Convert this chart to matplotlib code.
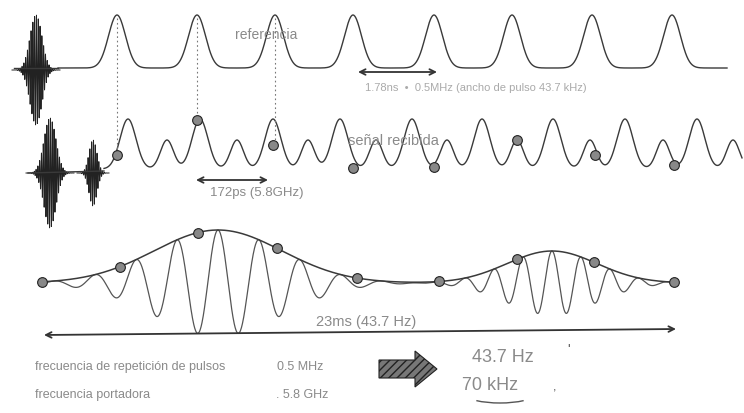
import numpy as np
import matplotlib
matplotlib.use("Agg")
import matplotlib.pyplot as plt
from matplotlib.patches import FancyArrow, Arc

# --- values (pixel units of the 744x413 drawing) ---
ref_peaks_x = [117, 197, 275, 353, 434, 512, 592, 672]
ref_baseline, ref_height = 68, 53

recv_big_x = [128, 200, 273, 340, 412, 482, 553, 625, 697]
recv_small_x = [167, 237, 308, 376, 447, 517, 590, 663, 733]
recv_baseline, recv_big_h, recv_small_h = 169, 50, 29
recv_samples_x = [117, 197, 273, 353, 434, 517, 595, 674]
recv_samples_y = [155, 120, 145, 168, 167, 140, 155, 165]

env_samples_x = [42, 120, 198, 277, 357, 439, 517, 594, 674]
bump_centers = [218, 552]
bump_amps = [53, 32]
bump_widths = [64, 45]
bump_periods = [41, 29]
env_baseline = 283

burst_x = [36, 50, 93]
burst_y = [70, 173, 173]
burst_amp = [55, 55, 33]
burst_w = [6, 6, 4]

labels = {
    "ref": "referencia",
    "ref_span": "1.78ns  \u2022  0.5MHz (ancho de pulso 43.7 kHz)",
    "recv": "se\u00f1al recibida",
    "recv_span": "172ps (5.8GHz)",
    "env_span": "23ms (43.7 Hz)",
    "prf": "frecuencia de repetici\u00f3n de pulsos",
    "prf_val": "0.5 MHz",
    "carrier": "frecuencia portadora",
    "carrier_val": ". 5.8 GHz",
    "out1": "43.7 Hz",
    "out2": "70 kHz",
}

LINE = "#3a3a3a"
TXT = "#8a8a8a"
plt.rcParams["font.family"] = ["Liberation Sans", "DejaVu Sans"]


def gauss(x, c, w):
    return np.exp(-(x - c) ** 2 / (2 * w ** 2))


fig = plt.figure(figsize=(7.44, 4.13), dpi=100)
ax = fig.add_axes([0, 0, 1, 1])
ax.set_xlim(0, 744)
ax.set_ylim(413, 0)
ax.axis("off")

# bursts on the left
for bx, by, ba, bw in zip(burst_x, burst_y, burst_amp, burst_w):
    xb = np.linspace(bx - 4 * bw, bx + 4 * bw, 900)
    yb = by - ba * gauss(xb, bx, bw) * np.sin(2 * np.pi * (xb - bx) / 1.8)
    ax.plot(xb, yb, color="#222", lw=0.7)

# reference pulse train
x1 = np.linspace(58, 727, 1500)
y1 = np.full_like(x1, ref_baseline, dtype=float)
for px in ref_peaks_x:
    y1 -= ref_height * gauss(x1, px, 8.5)
ax.plot([14, 58], [ref_baseline, ref_baseline], color=LINE, lw=1)
ax.plot(x1, y1, color=LINE, lw=1)

# received signal
ax.plot([28, 104], [173, 171], color=LINE, lw=1)
x2 = np.linspace(104, 742, 1500)
y2 = np.full_like(x2, recv_baseline, dtype=float)
for px in recv_big_x:
    y2 -= recv_big_h * gauss(x2, px, 8)
for px in recv_small_x:
    y2 -= recv_small_h * gauss(x2, px, 6.5)
ax.plot(x2, y2, color=LINE, lw=1)
ax.plot(recv_samples_x, recv_samples_y, "o", ms=7, mfc="#888", mec="#222", mew=0.8)

# sampling guides
for gx, gy in zip(ref_peaks_x[:3], recv_samples_y[:3]):
    ax.plot([gx, gx], [ref_baseline - ref_height + 3, gy - 4], color="#777",
            lw=0.8, ls=(0, (1.5, 2.5)))

# down-converted signal with envelope
x3 = np.linspace(env_samples_x[0], env_samples_x[-1], 2000)
env = np.zeros_like(x3)
osc = np.zeros_like(x3)
for c, a, w, p in zip(bump_centers, bump_amps, bump_widths, bump_periods):
    e = a * gauss(x3, c, w)
    env += e
    osc += e * np.cos(2 * np.pi * (x3 - c) / p)
ax.plot(x3, env_baseline - osc, color="#555", lw=0.9)
ax.plot(x3, env_baseline - env, color=LINE, lw=1.1)
sx = np.array(env_samples_x, dtype=float)
sy = env_baseline - sum(a * gauss(sx, c, w) for c, a, w in zip(bump_centers, bump_amps, bump_widths))
ax.plot(sx, sy, "o", ms=7, mfc="#888", mec="#222", mew=0.8)

# span arrows
arrow = dict(arrowstyle="<->", color="#333", lw=1.3, shrinkA=0, shrinkB=0)
ax.annotate("", xy=(437, 72), xytext=(358, 72), arrowprops=arrow)
ax.annotate("", xy=(268, 180), xytext=(196, 180), arrowprops=arrow)
ax.annotate("", xy=(676, 329), xytext=(44, 335), arrowprops=arrow)

# texts
ax.text(235, 35, labels["ref"], fontsize=10, color=TXT, va="center")
ax.text(365, 88, labels["ref_span"], fontsize=8, color="#aaa", va="center")
ax.text(348, 141, labels["recv"], fontsize=10.5, color=TXT, va="center")
ax.text(210, 193, labels["recv_span"], fontsize=9.5, color=TXT, va="center")
ax.text(316, 322, labels["env_span"], fontsize=10.5, color=TXT, va="center")
ax.text(35, 367, labels["prf"], fontsize=9, color=TXT, va="center")
ax.text(277, 367, labels["prf_val"], fontsize=9, color=TXT, va="center")
ax.text(35, 395, labels["carrier"], fontsize=9, color=TXT, va="center")
ax.text(276, 395, labels["carrier_val"], fontsize=9, color=TXT, va="center")
ax.text(472, 357, labels["out1"], fontsize=13, color=TXT, va="center")
ax.text(462, 385, labels["out2"], fontsize=13, color=TXT, va="center")
ax.text(567, 350, "'", fontsize=10, color="#555", va="center")
ax.text(553, 388, ",", fontsize=9, color="#555", va="center")

# big arrow and underline
ax.add_patch(FancyArrow(379, 369, 36, 0, width=18, head_width=36, head_length=22,
                        length_includes_head=False, facecolor="#777",
                        edgecolor="#222", hatch="////", lw=0.8))
ax.add_patch(Arc((500, 392), 76, 22, theta1=20, theta2=160, color="#555", lw=1))

fig.savefig("out.png", dpi=100)
